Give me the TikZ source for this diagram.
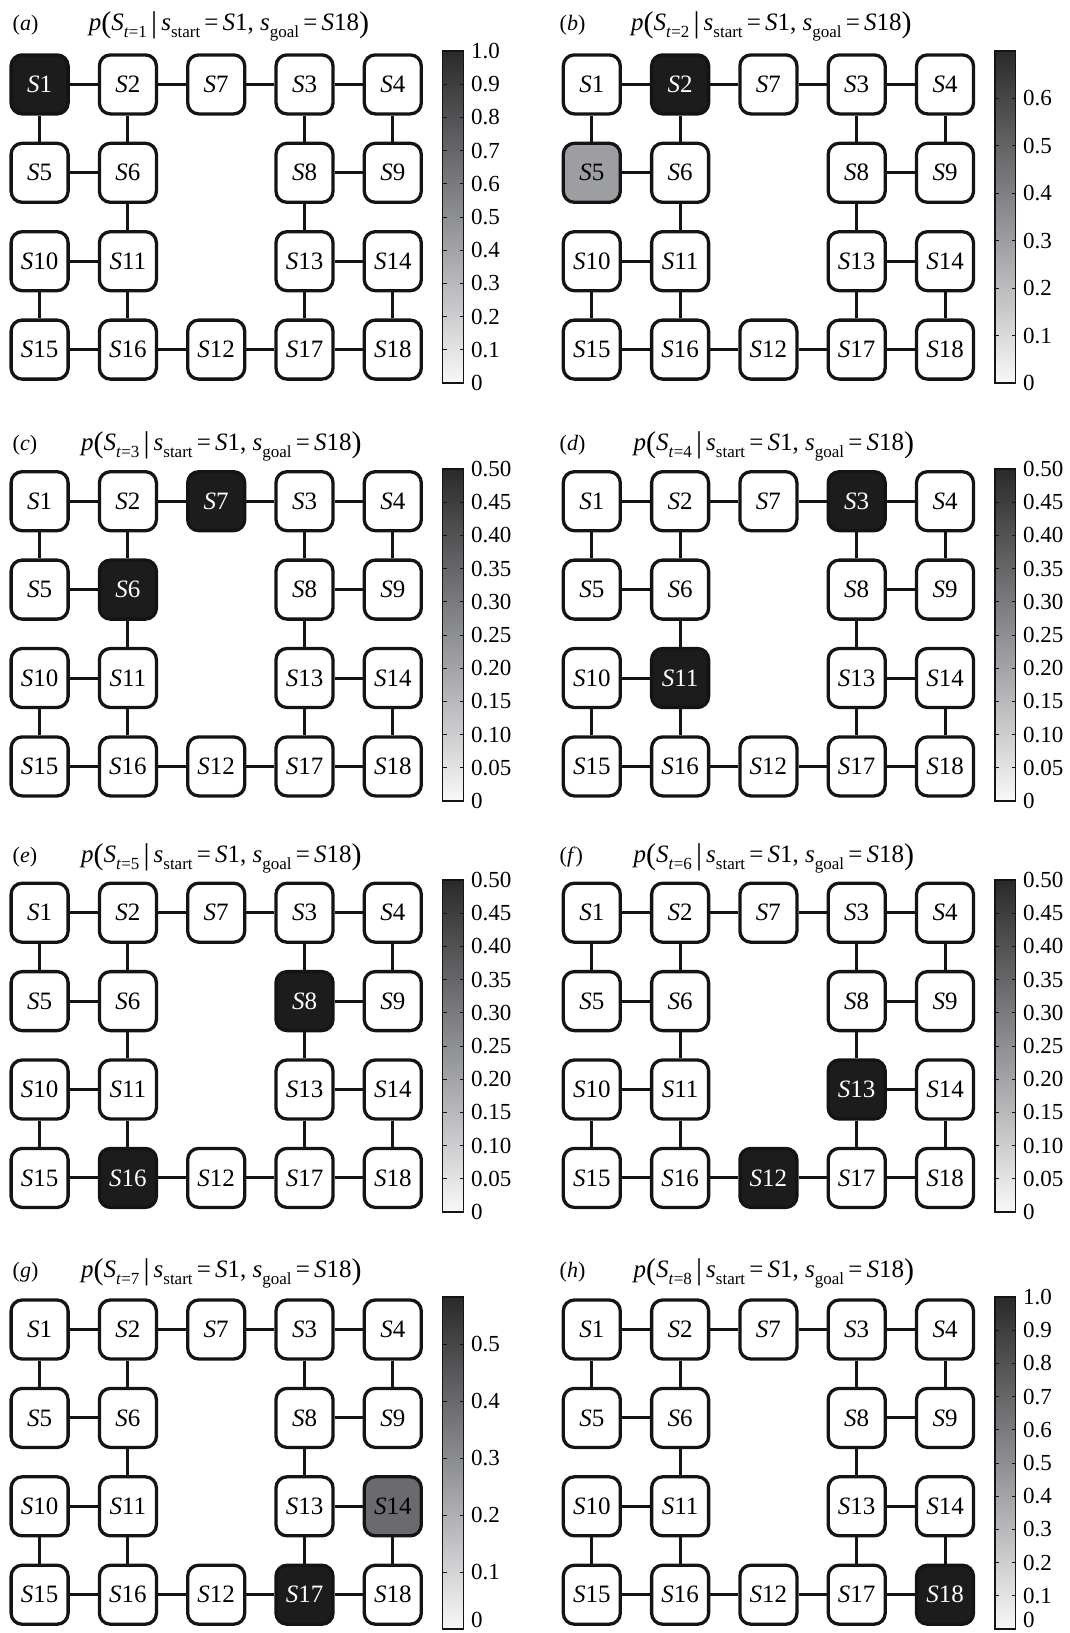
\documentclass[tikz,border=0pt]{standalone}
\usepackage{fontspec}
\setmainfont{Liberation Serif}
\definecolor{nodedark}{HTML}{1C1C1C}
\definecolor{cbtop}{HTML}{2A2A2A}
\definecolor{cbmid}{HTML}{8E8F93}
\definecolor{cbbot}{HTML}{F8F8F8}
\definecolor{grayA}{HTML}{9D9EA2}
\definecolor{grayB}{HTML}{6A6B6E}
\definecolor{rim}{HTML}{141414}

\newcommand\subs[1]{\raisebox{-0.3em}{\fontsize{17}{17}\selectfont #1}}
\newcommand\bigdel[1]{\raisebox{-0.1em}{\fontsize{30}{30}\selectfont #1}}
\newcommand\ptitle[1]{\fontsize{25}{25}\selectfont\textit{p}\bigdel{(}\textit{S}\subs{\textit{t}=#1}\,\bigdel{|}\,\textit{s}\subs{start}\,=\,\textit{S}1, \textit{s}\subs{goal}\,=\,\textit{S}18\bigdel{)}}

\tikzset{
  statebox/.style={draw=rim, line width=3.3pt, rounded corners=11pt, minimum width=57pt, minimum height=59pt, fill=white, inner sep=0pt, font=\fontsize{25}{25}\selectfont},
  hot/.style={fill=nodedark, text=white},
  warm/.style={fill=grayA},
  mild/.style={fill=grayB},
  edge/.style={draw=rim, line width=3pt},
  cblabel/.style={font=\fontsize{23}{23}\selectfont, inner sep=0pt, anchor=west},
  plabel/.style={font=\fontsize{22}{22}\selectfont, inner sep=0pt, anchor=base west},
  ptext/.style={inner sep=0pt, anchor=base west},
  s1/.style={}, s2/.style={}, s3/.style={}, s4/.style={}, s5/.style={}, s6/.style={},
  s7/.style={}, s8/.style={}, s9/.style={}, s10/.style={}, s11/.style={}, s12/.style={},
  s13/.style={}, s14/.style={}, s15/.style={}, s16/.style={}, s17/.style={}, s18/.style={},
}

\newcommand\snode[4]{\node[statebox, s#2] (#1-#2) at (#3,#4) {\textit{S}#2};}

\newcommand\gridpanel[4]{%
 \begin{scope}[#4]
 \pgfmathsetmacro\xa{#2}\pgfmathsetmacro\xb{#2+88.3}\pgfmathsetmacro\xc{#2+2*88.3}%
 \pgfmathsetmacro\xd{#2+3*88.3}\pgfmathsetmacro\xe{#2+4*88.3}%
 \pgfmathsetmacro\ya{#3}\pgfmathsetmacro\yb{#3+88.4}\pgfmathsetmacro\yc{#3+2*88.4}\pgfmathsetmacro\yd{#3+3*88.4}%
 \snode{#1}{1}{\xa}{\ya}\snode{#1}{2}{\xb}{\ya}\snode{#1}{7}{\xc}{\ya}\snode{#1}{3}{\xd}{\ya}\snode{#1}{4}{\xe}{\ya}
 \snode{#1}{5}{\xa}{\yb}\snode{#1}{6}{\xb}{\yb}\snode{#1}{8}{\xd}{\yb}\snode{#1}{9}{\xe}{\yb}
 \snode{#1}{10}{\xa}{\yc}\snode{#1}{11}{\xb}{\yc}\snode{#1}{13}{\xd}{\yc}\snode{#1}{14}{\xe}{\yc}
 \snode{#1}{15}{\xa}{\yd}\snode{#1}{16}{\xb}{\yd}\snode{#1}{12}{\xc}{\yd}\snode{#1}{17}{\xd}{\yd}\snode{#1}{18}{\xe}{\yd}
 \foreach \p/\q in {1/2,2/7,7/3,3/4,1/5,2/6,3/8,4/9,5/6,8/9,6/11,8/13,10/11,13/14,10/15,11/16,13/17,14/18,15/16,16/12,12/17,17/18}
   \draw[edge] (#1-\p) -- (#1-\q);
 \end{scope}}

% #1 name, #2 x, #3 top, #4 max value, #5 ticks, #6 lowest allowed label centre
\newcommand\cbar[6]{%
 \shade[bottom color=cbbot, top color=cbtop, middle color=cbmid] (#2,#3) rectangle ++(20.8,332);
 \draw[draw=rim, line width=1.3pt] (#2,#3) rectangle ++(20.8,332);
 \foreach \v/\t [count=\i] in {#5}{
   \pgfmathsetmacro\ty{#3+332-332*\v/#4}
   \pgfmathsetmacro\ly{min(\ty,#6)}
   \draw[draw=rim, line width=0.8pt] (#2,\ty) -- ++(4,0) (#2+20.8,\ty) -- ++(-4,0);
   \node[cblabel] (#1-\i) at (#2+28,\ly) {\t};
 }}

\begin{document}
\begin{tikzpicture}[x=1pt,y=-1pt]
\useasboundingbox (0,0) rectangle (1070,1633);
\fill[white] (0,0) rectangle (1070,1633);

% (a)
\node[plabel] (la) at (12.5,30) {(\textit{a})};
\node[ptext] (ta) at (88.6,30) {\ptitle{1}};
\gridpanel{a}{39.6}{84.4}{s1/.style=hot}
\cbar{ca}{442.8}{51}{1}{0/0,0.1/0.1,0.2/0.2,0.3/0.3,0.4/0.4,0.5/0.5,0.6/0.6,0.7/0.7,0.8/0.8,0.9/0.9,1/1.0}{9999}

% (b)
\node[plabel] (lb) at (559.5,30) {(\textit{b})};
\node[ptext] (tb) at (631,30) {\ptitle{2}};
\gridpanel{b}{591.8}{84.4}{s2/.style=hot, s5/.style=warm}
\cbar{cb}{995}{51}{0.7}{0/0,0.1/0.1,0.2/0.2,0.3/0.3,0.4/0.4,0.5/0.5,0.6/0.6}{9999}

% (c)
\node[plabel] (lc) at (12.5,450) {(\textit{c})};
\node[ptext] (tc) at (81,450) {\ptitle{3}};
\gridpanel{c}{39.6}{501.2}{s7/.style=hot, s6/.style=hot}
\cbar{cc}{442.8}{469}{0.5}{0/0,0.05/0.05,0.1/0.10,0.15/0.15,0.2/0.20,0.25/0.25,0.3/0.30,0.35/0.35,0.4/0.40,0.45/0.45,0.5/0.50}{9999}

% (d)
\node[plabel] (ld) at (559.5,450) {(\textit{d})};
\node[ptext] (td) at (633.5,450) {\ptitle{4}};
\gridpanel{d}{591.8}{501.2}{s3/.style=hot, s11/.style=hot}
\cbar{cd}{995}{469}{0.5}{0/0,0.05/0.05,0.1/0.10,0.15/0.15,0.2/0.20,0.25/0.25,0.3/0.30,0.35/0.35,0.4/0.40,0.45/0.45,0.5/0.50}{9999}

% (e)
\node[plabel] (le) at (12.5,862) {(\textit{e})};
\node[ptext] (te) at (81,862) {\ptitle{5}};
\gridpanel{e}{39.6}{912.7}{s8/.style=hot, s16/.style=hot}
\cbar{ce}{442.8}{880}{0.5}{0/0,0.05/0.05,0.1/0.10,0.15/0.15,0.2/0.20,0.25/0.25,0.3/0.30,0.35/0.35,0.4/0.40,0.45/0.45,0.5/0.50}{9999}

% (f)
\node[plabel] (lf) at (559.5,862) {(\textit{f})};
\node[ptext] (tf) at (633.5,862) {\ptitle{6}};
\gridpanel{f}{591.8}{912.7}{s13/.style=hot, s12/.style=hot}
\cbar{cf}{995}{880}{0.5}{0/0,0.05/0.05,0.1/0.10,0.15/0.15,0.2/0.20,0.25/0.25,0.3/0.30,0.35/0.35,0.4/0.40,0.45/0.45,0.5/0.50}{9999}

% (g)
\node[plabel] (lg) at (12.5,1277) {(\textit{g})};
\node[ptext] (tg) at (81,1277) {\ptitle{7}};
\gridpanel{g}{39.6}{1329.5}{s17/.style=hot, s14/.style=mild}
\cbar{cg}{442.8}{1297}{0.583}{0/0,0.1/0.1,0.2/0.2,0.3/0.3,0.4/0.4,0.5/0.5}{1620}

% (h)
\node[plabel] (lh) at (559.5,1277) {(\textit{h})};
\node[ptext] (th) at (633.5,1277) {\ptitle{8}};
\gridpanel{h}{591.8}{1329.5}{s18/.style=hot}
\cbar{ch}{995}{1297}{1}{0/0,0.1/0.1,0.2/0.2,0.3/0.3,0.4/0.4,0.5/0.5,0.6/0.6,0.7/0.7,0.8/0.8,0.9/0.9,1/1.0}{1620}
\end{tikzpicture}
\end{document}
